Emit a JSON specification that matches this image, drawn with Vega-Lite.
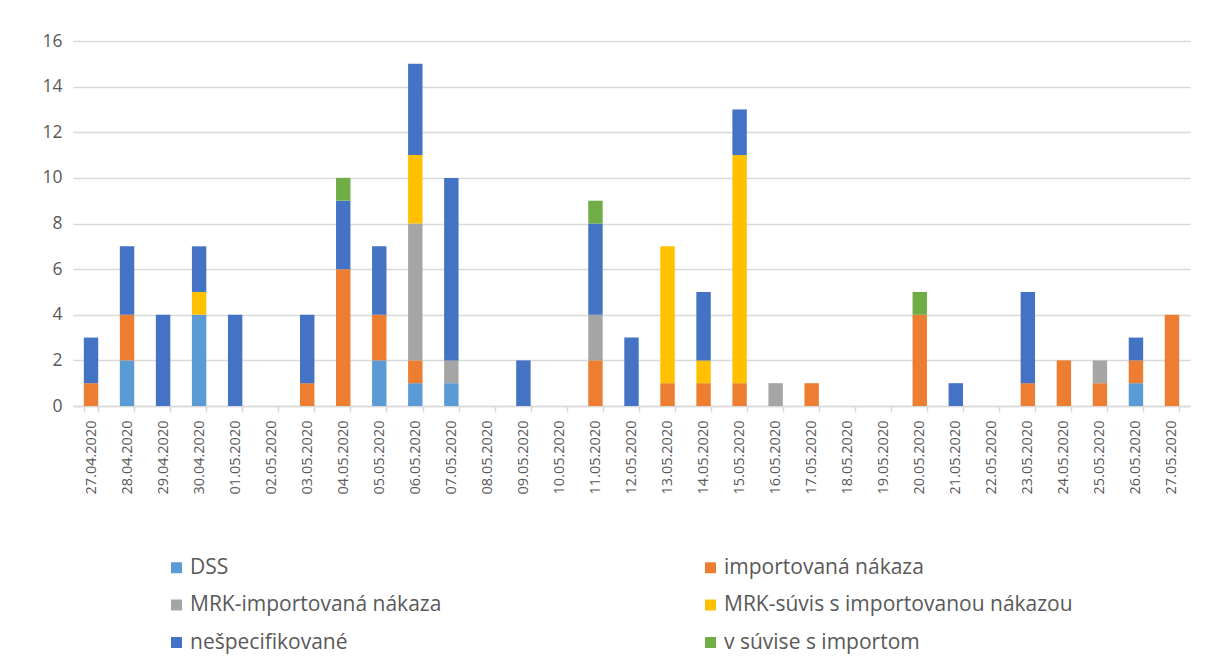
{
  "$schema": "https://vega.github.io/schema/vega-lite/v6.json",
  "autosize": {"type": "none"},
  "padding": {"left": 73, "top": 41, "right": 18, "bottom": 256},
  "width": 1117,
  "height": 365,
  "background": "white",
  "config": {
    "font": "Open Sans",
    "view": {"stroke": null}
  },
  "datasets": {
    "cases": [
      {"date": "27.04.2020", "cat": "importovaná nákaza", "n": 1},
      {"date": "27.04.2020", "cat": "nešpecifikované", "n": 2},
      {"date": "28.04.2020", "cat": "DSS", "n": 2},
      {"date": "28.04.2020", "cat": "importovaná nákaza", "n": 2},
      {"date": "28.04.2020", "cat": "nešpecifikované", "n": 3},
      {"date": "29.04.2020", "cat": "nešpecifikované", "n": 4},
      {"date": "30.04.2020", "cat": "DSS", "n": 4},
      {"date": "30.04.2020", "cat": "MRK-súvis s importovanou nákazou", "n": 1},
      {"date": "30.04.2020", "cat": "nešpecifikované", "n": 2},
      {"date": "01.05.2020", "cat": "nešpecifikované", "n": 4},
      {"date": "02.05.2020", "cat": "nešpecifikované", "n": 0},
      {"date": "03.05.2020", "cat": "importovaná nákaza", "n": 1},
      {"date": "03.05.2020", "cat": "nešpecifikované", "n": 3},
      {"date": "04.05.2020", "cat": "importovaná nákaza", "n": 6},
      {"date": "04.05.2020", "cat": "nešpecifikované", "n": 3},
      {"date": "04.05.2020", "cat": "v súvise s importom", "n": 1},
      {"date": "05.05.2020", "cat": "DSS", "n": 2},
      {"date": "05.05.2020", "cat": "importovaná nákaza", "n": 2},
      {"date": "05.05.2020", "cat": "nešpecifikované", "n": 3},
      {"date": "06.05.2020", "cat": "DSS", "n": 1},
      {"date": "06.05.2020", "cat": "importovaná nákaza", "n": 1},
      {"date": "06.05.2020", "cat": "MRK-importovaná nákaza", "n": 6},
      {"date": "06.05.2020", "cat": "MRK-súvis s importovanou nákazou", "n": 3},
      {"date": "06.05.2020", "cat": "nešpecifikované", "n": 4},
      {"date": "07.05.2020", "cat": "DSS", "n": 1},
      {"date": "07.05.2020", "cat": "MRK-importovaná nákaza", "n": 1},
      {"date": "07.05.2020", "cat": "nešpecifikované", "n": 8},
      {"date": "08.05.2020", "cat": "nešpecifikované", "n": 0},
      {"date": "09.05.2020", "cat": "nešpecifikované", "n": 2},
      {"date": "10.05.2020", "cat": "nešpecifikované", "n": 0},
      {"date": "11.05.2020", "cat": "importovaná nákaza", "n": 2},
      {"date": "11.05.2020", "cat": "MRK-importovaná nákaza", "n": 2},
      {"date": "11.05.2020", "cat": "nešpecifikované", "n": 4},
      {"date": "11.05.2020", "cat": "v súvise s importom", "n": 1},
      {"date": "12.05.2020", "cat": "nešpecifikované", "n": 3},
      {"date": "13.05.2020", "cat": "importovaná nákaza", "n": 1},
      {"date": "13.05.2020", "cat": "MRK-súvis s importovanou nákazou", "n": 6},
      {"date": "14.05.2020", "cat": "importovaná nákaza", "n": 1},
      {"date": "14.05.2020", "cat": "MRK-súvis s importovanou nákazou", "n": 1},
      {"date": "14.05.2020", "cat": "nešpecifikované", "n": 3},
      {"date": "15.05.2020", "cat": "importovaná nákaza", "n": 1},
      {"date": "15.05.2020", "cat": "MRK-súvis s importovanou nákazou", "n": 10},
      {"date": "15.05.2020", "cat": "nešpecifikované", "n": 2},
      {"date": "16.05.2020", "cat": "MRK-importovaná nákaza", "n": 1},
      {"date": "17.05.2020", "cat": "importovaná nákaza", "n": 1},
      {"date": "18.05.2020", "cat": "nešpecifikované", "n": 0},
      {"date": "19.05.2020", "cat": "nešpecifikované", "n": 0},
      {"date": "20.05.2020", "cat": "importovaná nákaza", "n": 4},
      {"date": "20.05.2020", "cat": "v súvise s importom", "n": 1},
      {"date": "21.05.2020", "cat": "nešpecifikované", "n": 1},
      {"date": "22.05.2020", "cat": "nešpecifikované", "n": 0},
      {"date": "23.05.2020", "cat": "importovaná nákaza", "n": 1},
      {"date": "23.05.2020", "cat": "nešpecifikované", "n": 4},
      {"date": "24.05.2020", "cat": "importovaná nákaza", "n": 2},
      {"date": "25.05.2020", "cat": "importovaná nákaza", "n": 1},
      {"date": "25.05.2020", "cat": "MRK-importovaná nákaza", "n": 1},
      {"date": "26.05.2020", "cat": "DSS", "n": 1},
      {"date": "26.05.2020", "cat": "importovaná nákaza", "n": 1},
      {"date": "26.05.2020", "cat": "nešpecifikované", "n": 1},
      {"date": "27.05.2020", "cat": "importovaná nákaza", "n": 4}
    ]
  },
  "data": {"name": "cases"},
  "mark": {"type": "bar"},
  "encoding": {
    "x": {
      "field": "date",
      "type": "nominal",
      "sort": null,
      "scale": {"paddingInner": 0.6, "paddingOuter": 0.3},
      "axis": {
        "title": null,
        "labelAngle": -90,
        "labelAlign": "right",
        "labelBaseline": "middle",
        "labelFontSize": 14.5,
        "labelColor": "#595959",
        "labelPadding": 8,
        "domainColor": "#d9d9d9",
        "domainWidth": 1.5,
        "tickColor": "#d9d9d9",
        "tickWidth": 1.5,
        "tickSize": 6,
        "tickBand": "extent"
      }
    },
    "y": {
      "field": "n",
      "type": "quantitative",
      "stack": "zero",
      "scale": {"domain": [0, 16], "nice": false},
      "axis": {
        "title": null,
        "values": [0, 2, 4, 6, 8, 10, 12, 14, 16],
        "domain": false,
        "ticks": false,
        "gridColor": "#d9d9d9",
        "gridWidth": 1.5,
        "labelFontSize": 17.5,
        "labelColor": "#595959",
        "labelPadding": 11
      }
    },
    "color": {
      "field": "cat",
      "type": "nominal",
      "scale": {
        "domain": ["DSS", "importovaná nákaza", "MRK-importovaná nákaza", "MRK-súvis s importovanou nákazou", "nešpecifikované", "v súvise s importom"],
        "range": ["#5B9BD5", "#ED7D31", "#A5A5A5", "#FFC000", "#4472C4", "#70AD47"]
      },
      "legend": {
        "title": null,
        "orient": "none",
        "legendX": 93,
        "legendY": 516,
        "direction": "horizontal",
        "columns": 2,
        "columnPadding": 258,
        "rowPadding": 15.5,
        "symbolType": "square",
        "symbolSize": 120,
        "symbolStrokeWidth": 0,
        "labelFontSize": 21,
        "labelColor": "#595959",
        "labelOffset": 3,
        "labelLimit": 400
      }
    },
    "order": {"field": "ord", "type": "quantitative"}
  },
  "transform": [
    {"calculate": "indexof(['DSS','importovaná nákaza','MRK-importovaná nákaza','MRK-súvis s importovanou nákazou','nešpecifikované','v súvise s importom'], datum.cat)", "as": "ord"}
  ]
}
